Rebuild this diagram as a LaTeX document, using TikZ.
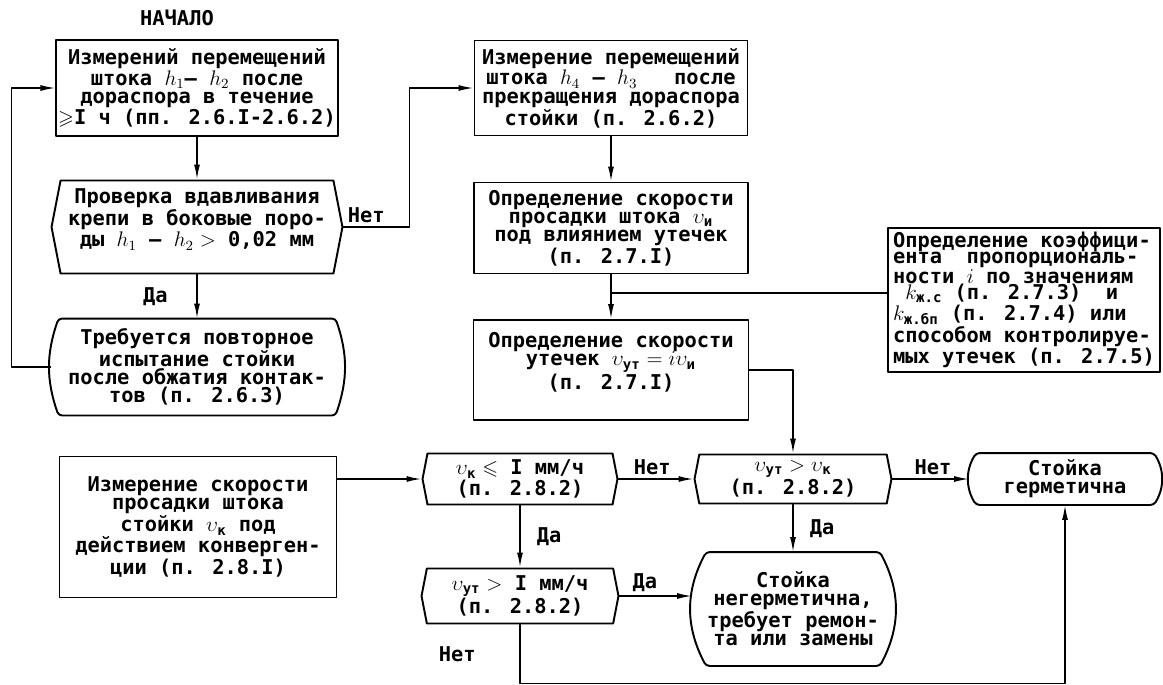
\documentclass[tikz,border=0pt]{standalone}
\usepackage{fontspec}
\usepackage{amssymb}
\newfontfamily\typer{DejaVu Sans Mono}
\usetikzlibrary{arrows.meta,shapes.symbols}
\newcommand\lo[1]{\mbox{\fontsize{8}{8}\selectfont#1}}

\begin{document}
\begin{tikzpicture}[x=0.02cm,y=-0.02cm,line width=.9pt,line join=round,
  every node/.style={font=\typer\bfseries\fontsize{11.6}{10.3}\selectfont,inner sep=2pt},
  flow/.style={-{Latex[length=3mm,width=1.2mm]}},
  block/.style={draw,line width=1.1pt,align=center,inner sep=1pt},
  check/.style={block,shape=signal,signal to=west and east,signal pointer angle=158},
  bent/.style={block,draw=none},
  frame/.style={line width=1.1pt,rounded corners=2pt}]
  \useasboundingbox (0,0) rectangle (1163,684);
  \node (start) at (177,18) {НАЧАЛО};
  \node[block,minimum width=5.46cm,minimum height=1.92cm] (meas1) at (197,88)
    {Измерений перемещений\\штока $h_1$– $h_2$ после\\дораспора в течение\\$\geqslant$I ч (пп. 2.6.I-2.6.2)};
  \node[check,minimum width=5.82cm,minimum height=1.86cm] (chk) at (197,227)
    {Проверка вдавливания\\крепи в боковые поро-\\ды $h_1$ – $h_2>$ 0,02 мм\\\mbox{}};
  \node[bent,minimum width=5.82cm,minimum height=1.9cm] (rep) at (197,367)
    {Требуется повторное\\испытание стойки\\после обжатия контак-\\тов (п. 2.6.3)};
  \node[block,minimum width=5.54cm,minimum height=2.82cm] (conv) at (198,527)
    {Измерение скорости\\просадки штока\\стойки $\upsilon_{\lo{к}}$ под\\действием конверген-\\ции (п. 2.8.I)};
  \node[block,minimum width=5.46cm,minimum height=1.9cm] (meas2) at (611,88)
    {Измерение перемещений\\штока $h_4$ – $h_3$~~ после\\прекращения дораспора\\стойки (п. 2.6.2)};
  \node[block,minimum width=5.48cm,minimum height=1.82cm] (rate) at (611,228)
    {Определение скорости\\просадки штока $\upsilon_{\lo{и}}$\\под влиянием утечек\\(п. 2.7.I)};
  \node[block,minimum width=5.5cm,minimum height=2cm] (leak) at (611,370)
    {Определение скорости\\утечек $\upsilon_{\lo{ут}}=i\upsilon_{\lo{и}}$\\(п. 2.7.I)\\\mbox{}};
  \node[block,align=left,minimum width=5.44cm,minimum height=2.88cm,
    font=\typer\bfseries\fontsize{11.6}{9.2}\selectfont] (coef) at (1024,300)
    {Определение коэффици-\\ента~ пропорциональ-\\ности $i$ по значениям\\~$k_{\lo{ж.с}}$ (п. 2.7.3)~ и\\$k_{\lo{ж.бп}}$ (п. 2.7.4) или\\способом контролируе-\\мых утечек (п. 2.7.5)};
  \node[check,minimum width=3.9cm,minimum height=1.02cm] (le1) at (520,479)
    {$\upsilon_{\lo{к}}\leqslant$ I мм/ч\\(п. 2.8.2)};
  \node[check,minimum width=3.94cm,minimum height=1.1cm] (gt1) at (520,596)
    {$\upsilon_{\lo{ут}}>$ I мм/ч\\(п. 2.8.2)};
  \node[check,minimum width=3.94cm,minimum height=.98cm] (gtk) at (793,479)
    {$\upsilon_{\lo{ут}}>\upsilon_{\lo{к}}$\\(п. 2.8.2)};
  \node[bent,minimum width=3.8cm,minimum height=1cm] (ok) at (1065,479)
    {Стойка\\герметична};
  \node[bent,minimum width=4cm,minimum height=2.24cm] (neg) at (793,609)
    {Стойка\\негерметична,\\требует ремон-\\та или замены};
  \foreach \curved/\inset/\bend in {rep/4.5pt/19,ok/4pt/31,neg/8pt/28}
    \draw[frame] (\curved.north) -- ([xshift=-\inset]\curved.north east)
      to[bend left=\bend] ([xshift=-\inset]\curved.south east)
      -- ([xshift=\inset]\curved.south west) to[bend left=\bend]
      ([xshift=\inset]\curved.north west) -- cycle;
  \coordinate (tap) at (611,293);
  \draw[flow] (meas1.south) -- (meas1.south |- chk.north);
  \draw[flow] (chk.south) -- node[midway,left=.5cm] (yes1) {Да} (chk.south |- rep.north);
  \draw[flow] (rep.west) -- ++(-39,0) |- (meas1.west);
  \draw[flow] (chk.east) -- node[pos=0,above right] (no1) {Нет} ++(66,0) |- (meas2.west);
  \draw[flow] (meas2.south) -- (rate.north);
  \draw[flow] (rate.south) -- (leak.north);
  \draw (tap) -- (tap -| coef.west);
  \draw[flow] (leak.east) -| (gtk.north);
  \draw[flow] (conv.east |- le1.west) -- (le1.west);
  \draw[flow] (le1.east) -- node[pos=.45,above] (no2) {Нет} (gtk.west);
  \draw[flow] (gtk.east) -- node[pos=.53,above] (no3) {Нет} (ok.west);
  \draw[flow] (le1.south) -- node[midway,right=.25cm] (yes2) {Да} (gt1.north);
  \draw[flow] (gtk.south) -- node[midway,right=.25cm] (yes3) {Да} (neg.north);
  \draw[flow] (gt1.east) -- node[pos=.35,above] (yes4) {Да} (gt1.east -| neg.west);
  \draw[flow] (gt1.south) -- node[midway,left=.8cm] (no4) {Нет} ++(0,59) -| (ok.south);
\end{tikzpicture}
\end{document}
